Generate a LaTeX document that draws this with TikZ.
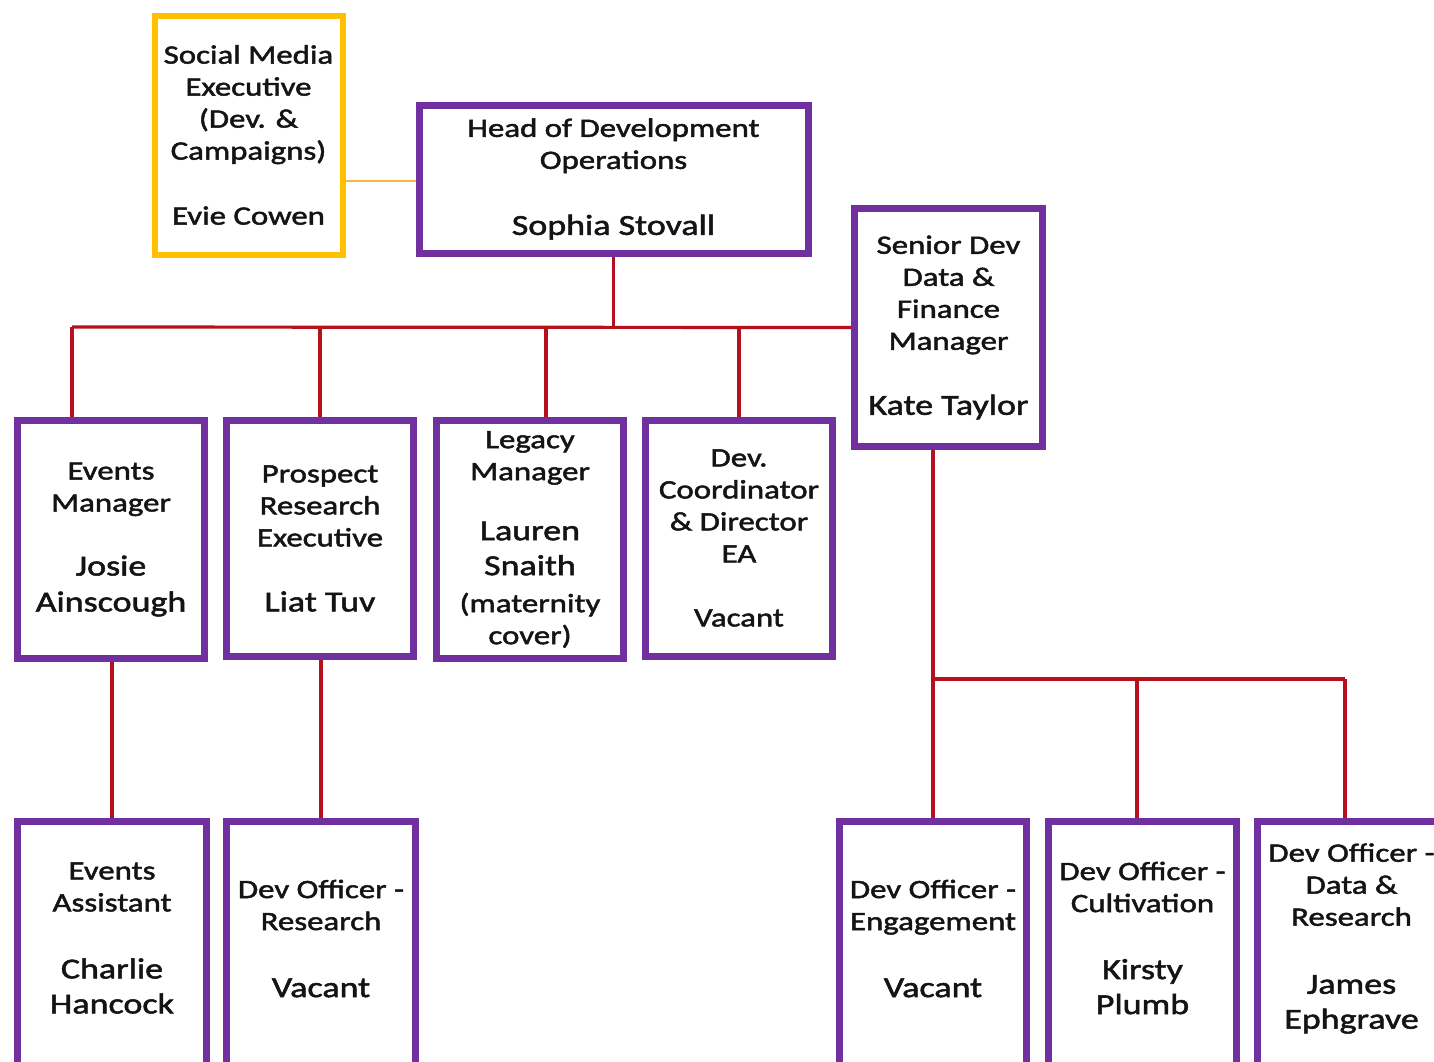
\documentclass[tikz,border=0pt]{standalone}
\usepackage{fontspec}
\setmainfont{Carlito}[FakeStretch=1.24,FakeBold=1.8]
\usetikzlibrary{backgrounds}
\definecolor{purp}{HTML}{7030A0}
\definecolor{gold}{HTML}{FFC000}
\definecolor{linkred}{HTML}{B5101C}
\definecolor{linkorange}{HTML}{F5B547}
\definecolor{txtc}{HTML}{141414}
\newcommand\ttl{\fontsize{26.5}{32}\selectfont}
\newcommand\nm{\fontsize{29}{36}\selectfont}
\begin{document}
\begin{tikzpicture}[x=1pt,y=-1pt,
  pbox/.style={draw=purp, line width=7pt, fill=white, inner sep=0pt, minimum width=187pt, align=center, font=\ttl, text=txtc},
  ybox/.style={draw=gold, line width=6pt, fill=white, inner sep=0pt, align=center, font=\ttl, text=txtc},
  txt/.style={align=center, font=\ttl, inner sep=0pt, text=txtc},
  link/.style={draw=linkred, line width=3.2pt},
  sidelink/.style={draw=linkorange, line width=2pt}]
\useasboundingbox (0,0) rectangle (1434,1061);

% top level
\node[ybox, minimum width=188pt, minimum height=239pt] (social) at (248.5,135)
  {Social Media\\Executive\\(Dev. \&\\Campaigns)\\[33pt]Evie Cowen};
\node[pbox, minimum width=389pt, minimum height=148pt] (head) at (613.5,179)
  {Head of Development\\Operations\\[34pt]\nm Sophia Stovall};
\node[pbox, minimum width=188pt, minimum height=238pt] (senior) at (948.5,327.5)
  {Senior Dev\\Data \&\\Finance\\Manager\\[33pt]\nm Kate Taylor};

% second level
\node[pbox, minimum height=238pt] (evm) at (111,539.5)
  {Events\\Manager\\[32pt]\nm Josie\\[4pt]\nm Ainscough};
\node[pbox, minimum height=236pt] (pros) at (320,538.5)
  {Prospect\\Research\\Executive\\[33pt]\nm Liat Tuv};
\node[pbox, minimum height=238pt] (leg) at (530,539.5)
  {Legacy\\Manager\\[28pt]\nm Lauren\\[3pt]\nm Snaith\\[5pt](maternity\\cover)};
\node[pbox, minimum height=236pt] (coord) at (739,538)
  {Dev.\\Coordinator\\\& Director\\EA\\[32pt]Vacant};

% third level boxes (run off the bottom edge)
\node[pbox, minimum width=189pt, minimum height=300pt] (evA) at (112,971.5) {};
\node[pbox, minimum width=189pt, minimum height=300pt] (dor) at (321,971.5) {};
\node[pbox, minimum width=187pt, minimum height=300pt] (eng) at (933,971.5) {};
\node[pbox, minimum width=188pt, minimum height=300pt] (cult) at (1142.5,971.5) {};
\node[pbox, minimum width=188pt, minimum height=300pt] (dat) at (1351.5,971.5) {};

\node[txt] (evA-t) at (112,938) {Events\\Assistant\\[35pt]\nm Charlie\\[3pt]\nm Hancock};
\node[txt] (dor-t) at (321,938.5) {Dev Officer -\\Research\\[35pt]\nm Vacant};
\node[txt] (eng-t) at (933,938.5) {Dev Officer -\\Engagement\\[35pt]\nm Vacant};
\node[txt] (cult-t) at (1142.5,938) {Dev Officer -\\Cultivation\\[35pt]\nm Kirsty\\[3pt]\nm Plumb};
\node[txt] (dat-t) at (1351.5,938.5) {Dev Officer -\\Data \&\\Research\\[36pt]\nm James\\[3pt]\nm Ephgrave};

% connectors
\coordinate (busL) at (72,327);
\coordinate (busLeg) at (546,327);
\coordinate (bus2) at (933,679);
\coordinate (bus2m) at (1137,679);
\coordinate (bus2r) at (1345,679);
\begin{scope}[on background layer]
  \draw[sidelink] (social.east |- 0,181) -- (head.west |- 0,181);
  \draw[link] (head.south) -- (head.south |- busL);
  \draw[link] (busL) -- (senior.west);
  \draw[link] (busL) -- (busL |- evm.north);
  \draw[link] (pros.north |- busL) -- (pros.north);
  \draw[link] (busLeg) -- (busLeg |- leg.north);
  \draw[link] (coord.north |- busL) -- (coord.north);
  \draw[link] (evm.south -| 112,0) -- (evA.north -| 112,0);
  \draw[link] (pros.south -| 321,0) -- (dor.north);
  \draw[link] (eng.north |- senior.south) -- (eng.north);
  \draw[link] (bus2) -- (bus2r);
  \draw[link] (bus2m) -- (bus2m |- cult.north);
  \draw[link] (bus2r) -- (bus2r |- dat.north);
\end{scope}
\end{tikzpicture}
\end{document}
